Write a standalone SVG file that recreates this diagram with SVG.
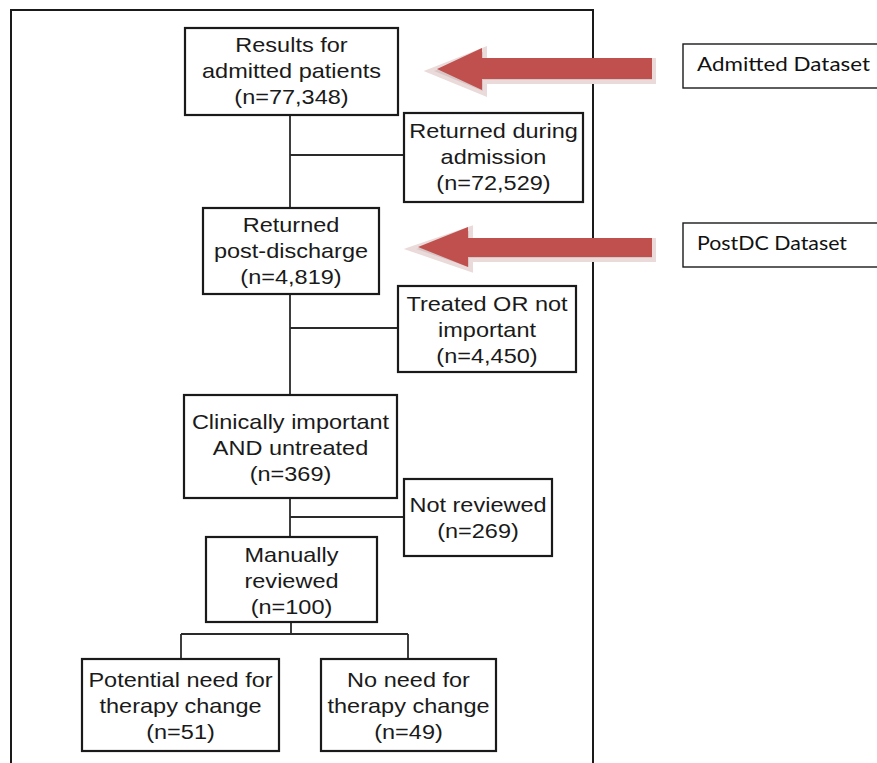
<svg xmlns="http://www.w3.org/2000/svg" width="877" height="763" viewBox="0 0 877 763">
<style>
.box{fill:#fff;stroke:#1a1a1a;stroke-width:2.2}
.lbl{fill:#fff;stroke:#1a1a1a;stroke-width:1.4}
.t{font-family:"Liberation Sans",Arial,sans-serif;font-size:21px;fill:#1a1a1a;text-anchor:middle}
.d{font-family:Lato,"Liberation Sans",sans-serif;font-size:19px;fill:#111}
.c{fill:none;stroke:#2a2a2a;stroke-width:1.8}
.arrow{fill:#C0504D}
.ash{fill:#d8c6c6;stroke:#eadada;stroke-width:4;stroke-linejoin:miter}
</style>
<rect width="877" height="763" fill="#fff"/>
<rect x="11" y="10" width="582" height="770" fill="none" stroke="#1a1a1a" stroke-width="2"/>
<g id="connectors">
<path class="c" d="M290 115V208M290 155H404"/>
<path class="c" d="M290 294V395M290 328H398"/>
<path class="c" d="M290 498V537M290 517H404"/>
<path class="c" d="M291 622V634M181 634H408M181 634V659M408 634V659"/>
</g>
<g id="arrow1">
<polygon class="ash" points="429,71 485,49 485,60 654,60 654,82 485,82 485,94"/>
<polygon class="arrow" points="437,69 482,48 482,58 652,58 652,79 482,79 482,90"/>
</g>
<g id="arrow2">
<polygon class="ash" points="410,249 471,228 471,240 654,240 654,260 471,260 471,270"/>
<polygon class="arrow" points="418,247 468,227 468,238 652,238 652,257 468,257 468,267"/>
</g>
<g id="n1">
<rect class="box" x="185" y="28" width="213" height="87"/>
<text class="t" transform="translate(291.5 0) scale(1.12 1)"><tspan x="0" y="52">Results for</tspan><tspan x="0" y="78">admitted patients</tspan><tspan x="0" y="104">(n=77,348)</tspan></text>
</g>
<g id="n2">
<rect class="box" x="404" y="113" width="179" height="89"/>
<text class="t" transform="translate(493.5 0) scale(1.12 1)"><tspan x="0" y="138">Returned during</tspan><tspan x="0" y="164">admission</tspan><tspan x="0" y="190">(n=72,529)</tspan></text>
</g>
<g id="n3">
<rect class="box" x="203" y="208" width="176" height="86"/>
<text class="t" transform="translate(291 0) scale(1.12 1)"><tspan x="0" y="232">Returned</tspan><tspan x="0" y="258">post-discharge</tspan><tspan x="0" y="284">(n=4,819)</tspan></text>
</g>
<g id="n4">
<rect class="box" x="398" y="286" width="178" height="86"/>
<text class="t" transform="translate(487 0) scale(1.12 1)"><tspan x="0" y="311">Treated OR not</tspan><tspan x="0" y="337">important</tspan><tspan x="0" y="363">(n=4,450)</tspan></text>
</g>
<g id="n5">
<rect class="box" x="184" y="395" width="213" height="103"/>
<text class="t" transform="translate(290.5 0) scale(1.12 1)"><tspan x="0" y="429">Clinically important</tspan><tspan x="0" y="455">AND untreated</tspan><tspan x="0" y="481">(n=369)</tspan></text>
</g>
<g id="n6">
<rect class="box" x="404" y="479" width="148" height="77"/>
<text class="t" transform="translate(478 0) scale(1.12 1)"><tspan x="0" y="512">Not reviewed</tspan><tspan x="0" y="538">(n=269)</tspan></text>
</g>
<g id="n7">
<rect class="box" x="206" y="537" width="171" height="85"/>
<text class="t" transform="translate(291.5 0) scale(1.12 1)"><tspan x="0" y="562">Manually</tspan><tspan x="0" y="588">reviewed</tspan><tspan x="0" y="614">(n=100)</tspan></text>
</g>
<g id="n8">
<rect class="box" x="82" y="659" width="197" height="92"/>
<text class="t" transform="translate(180.5 0) scale(1.12 1)"><tspan x="0" y="687">Potential need for</tspan><tspan x="0" y="713">therapy change</tspan><tspan x="0" y="739">(n=51)</tspan></text>
</g>
<g id="n9">
<rect class="box" x="321" y="659" width="175" height="92"/>
<text class="t" transform="translate(408.5 0) scale(1.12 1)"><tspan x="0" y="687">No need for</tspan><tspan x="0" y="713">therapy change</tspan><tspan x="0" y="739">(n=49)</tspan></text>
</g>
<g id="label-admitted">
<rect class="lbl" x="683" y="44" width="210" height="44"/>
<text class="d" x="697" y="71" textLength="173" lengthAdjust="spacingAndGlyphs">Admitted Dataset</text>
</g>
<g id="label-postdc">
<rect class="lbl" x="683" y="223" width="210" height="44"/>
<text class="d" x="697" y="250" textLength="150" lengthAdjust="spacingAndGlyphs">PostDC Dataset</text>
</g>
</svg>
